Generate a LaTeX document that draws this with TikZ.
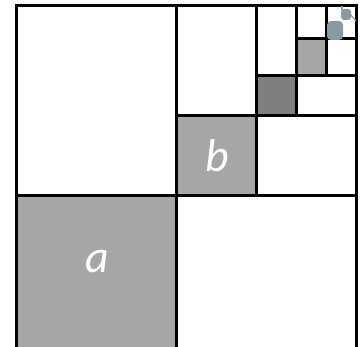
\documentclass[tikz,border=0pt]{standalone}
\usepackage{fontspec}
\setmainfont{Carlito}
\definecolor{lightsq}{HTML}{A6A6A6}
\definecolor{darksq}{HTML}{7F7F7F}
\definecolor{tinysq}{HTML}{8A9BA0}
\begin{document}
\begin{tikzpicture}[x=1pt, y=-1pt,
    grid line/.style={line width=3pt, line cap=rect},
    label/.style={text=white, font=\fontsize{46}{46}\selectfont\itshape, inner sep=0pt}]
    \path[use as bounding box] (0,0) rectangle (361,347);
    \clip (0,0) rectangle (361,347);

    % Shaded squares
    \fill[lightsq] (16,196) rectangle (176,356);
    \fill[lightsq] (176,116) rectangle (256,196);
    \fill[darksq] (256,76) rectangle (296,116);
    \fill[lightsq] (296,39) rectangle (326,76);

    \node[label] (a) at (97,262) {a};
    \node[label] (b) at (217,156) {b};

    % Subdivision lines
    \draw[grid line] (16,356) -- (16,6) -- (356,6) -- (356,356);
    \draw[grid line] (176,6) -- (176,356);
    \draw[grid line] (16,196) -- (356,196);
    \draw[grid line] (256,6) -- (256,196);
    \draw[grid line] (176,116) -- (356,116);
    \draw[grid line] (296,6) -- (296,116);
    \draw[grid line] (256,76) -- (356,76);
    \draw[grid line] (326,6) -- (326,76);
    \draw[grid line] (296,39) -- (356,39);

    % Smallest squares, blurred
    \fill[tinysq, rounded corners=4pt] (327,21) rectangle (343,40);
    \fill[tinysq, rounded corners=3pt] (341,9) rectangle (351,20);
    \draw[tinysq, line width=1.2pt] (342,6) -- (342,10);
    \draw[tinysq, line width=1.2pt] (350,14) -- (356,21);

    \end{tikzpicture}
\end{document}
